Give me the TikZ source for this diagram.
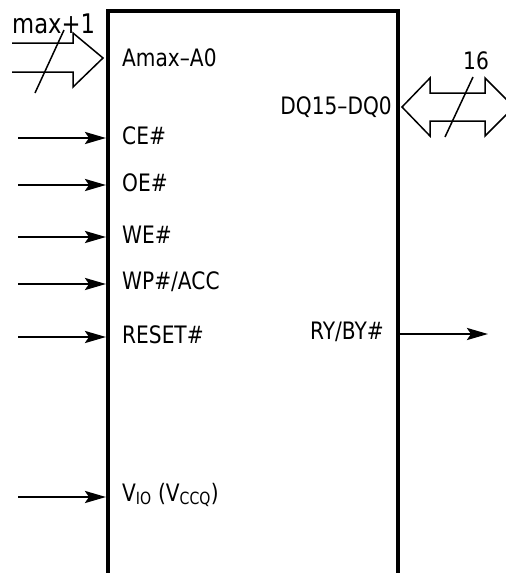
\documentclass[tikz,border=0pt]{standalone}
\usepackage{fontspec}
\usepackage{graphicx}
\setmainfont{DejaVu Sans}
\usetikzlibrary{arrows.meta}

% narrow, tall lettering as in the data sheet
\newcommand{\sig}[1]{\scalebox{0.84}[1]{#1}}

\tikzset{
	pin/.style={line width=2.6pt,-{Stealth[length=21pt,width=12pt,inset=4pt]}},
	lbl/.style={inner sep=0pt,font=\fontsize{24}{26}\selectfont},
	bus/.style={line width=1.5pt,line join=miter}
}

\begin{document}
\begin{tikzpicture}[x=1pt,y=-1pt]
					\useasboundingbox (0,0) rectangle (506,573);
					\clip (0,0) rectangle (506,573);
					% Define the chip body
					\draw[line width=3.5pt] (108,575) -- (108,11) -- (398,11) -- (398,575);
					% Inputs on the left side
					\foreach \y/\nm/\txt in {138/ce/CE\#, 185/oe/OE\#, 237/we/WE\#, 284/wp/{WP\#/ACC}, 337/rst/RESET\#, 497/vio/{V\textsubscript{IO} (V\textsubscript{CCQ})}}{
						\coordinate (\nm-in) at (18,\y);
						\coordinate (\nm-pin) at (106,\y);
						\node[lbl,anchor=west] (\nm) at (122,\y-2) {\sig{\txt}};
						\draw[pin] (\nm-in) -- (\nm-pin);}
					% Address bus
					\node[lbl,anchor=west] (addr) at (122,58) {\sig{Amax--A0}};
					\node[lbl,anchor=west,font=\fontsize{27}{29}\selectfont] (addr-w) at (12,24) {\sig{max+1}};
					\draw[bus] (12,43) -- (73,43) -- (73,33) -- (103,58) -- (73,87) -- (73,72) -- (12,72);
					\draw[line width=1.5pt] (35,93) -- (64,30);
					% Data bus
					\node[lbl,anchor=east] (dq) at (392,107) {\sig{DQ15--DQ0}};
					\node[lbl] (dq-w) at (476,61) {\sig{16}};
					\draw[bus] (402,107) -- (430,78) -- (430,93) -- (485,93) -- (485,78) -- (514,107)
						-- (485,136) -- (485,121) -- (430,121) -- (430,136) -- cycle;
					\draw[line width=1.5pt] (445,137) -- (473,77);
					% Ready/busy output
					\node[lbl,anchor=east] (ry) at (384,332) {\sig{RY/BY\#}};
					\coordinate (ry-pin) at (400,334);
					\coordinate (ry-out) at (488,334);
					\draw[pin] (ry-pin) -- (ry-out);
				\end{tikzpicture}
\end{document}
